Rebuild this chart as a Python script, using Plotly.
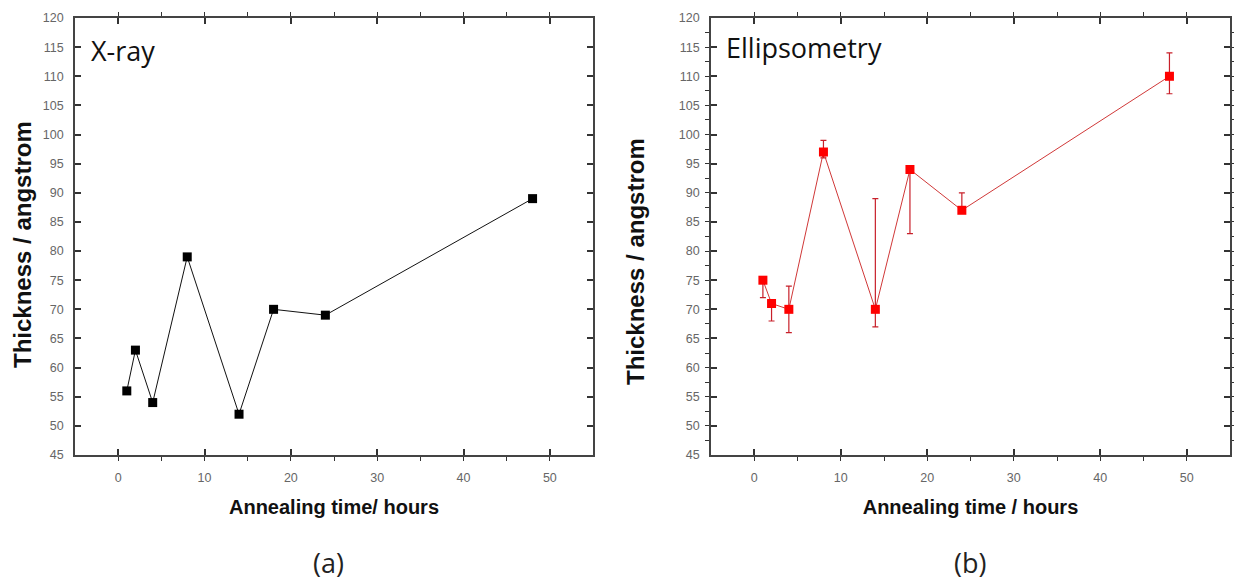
import plotly.graph_objects as go

# ---- data ----
xray_time = [1, 2, 4, 8, 14, 18, 24, 48]
xray_thickness = [56, 63, 54, 79, 52, 70, 69, 89]

ellip_time = [1, 2, 4, 8, 14, 18, 24, 48]
ellip_thickness = [75, 71, 70, 97, 70, 94, 87, 110]
ellip_err_plus = [0, 0, 4, 2, 19, 0, 3, 4]
ellip_err_minus = [3, 3, 4, 1, 3, 11, 0, 3]

x_title_a = "Annealing time/ hours"
x_title_b = "Annealing time / hours"
y_title = "Thickness / angstrom"

W, H = 1234, 585

fig = go.Figure()

fig.add_trace(go.Scatter(
    x=xray_time, y=xray_thickness, mode="lines+markers", name="X-ray",
    line=dict(color="#111111", width=1),
    marker=dict(symbol="square", size=9, color="#000000"),
    xaxis="x", yaxis="y", showlegend=False))

fig.add_trace(go.Scatter(
    x=ellip_time, y=ellip_thickness, mode="lines+markers", name="Ellipsometry",
    line=dict(color="#d03838", width=1),
    marker=dict(symbol="square", size=9, color="#ff0000"),
    error_y=dict(type="data", symmetric=False, array=ellip_err_plus,
                 arrayminus=ellip_err_minus, color="#c8202a",
                 thickness=1.2, width=3),
    xaxis="x2", yaxis="y2", showlegend=False))

y0, y1 = 1 - 455 / H, 1 - 18 / H

common_x = dict(range=[-5, 55], dtick=10, tick0=0, showgrid=False, zeroline=False,
                ticks="inside", ticklen=6, tickwidth=1.5, tickcolor="#333",
                showline=True, linecolor="#444", linewidth=1.8, mirror="ticks",
                minor=dict(ticks="outside", dtick=5, ticklen=4, tickcolor="#333", tickwidth=1.2),
                tickfont=dict(family="Liberation Sans, Arial", size=12.5, color="#666"),
                ticklabelstandoff=10, automargin=False,
                title=dict(font=dict(family="Liberation Sans, Arial", size=20, color="#111"),
                           standoff=16))
common_y = dict(range=[45, 120], dtick=5, tick0=0, showgrid=False, zeroline=False,
                ticks="inside", ticklen=6, tickwidth=1.5, tickcolor="#333",
                showline=True, linecolor="#444", linewidth=1.8, mirror="ticks",
                tickfont=dict(family="Liberation Sans, Arial", size=12.5, color="#666"),
                ticklabelstandoff=7, automargin=False)

fig.update_layout(
    width=W, height=H,
    margin=dict(l=0, r=0, t=0, b=0),
    paper_bgcolor="white", plot_bgcolor="white",
    xaxis=dict(common_x, domain=[75 / W, 593 / W], anchor="y",
               title=dict(common_x["title"], text="<b>" + x_title_a + "</b>")),
    yaxis=dict(common_y, domain=[y0, y1], anchor="x"),
    xaxis2=dict(common_x, domain=[711 / W, 1230 / W], anchor="y2",
                title=dict(common_x["title"], text="<b>" + x_title_b + "</b>")),
    yaxis2=dict(common_y, domain=[y0, y1], anchor="x2",
                minor=dict(ticks="outside", dtick=2.5, ticklen=4, tickcolor="#333", tickwidth=1.2)),
)

ann_font = dict(family="Liberation Sans, Arial", size=24, color="#111")
fig.add_annotation(text="<b>" + y_title + "</b>", textangle=-90, xref="paper", yref="paper",
                   x=22 / W, y=1 - 245 / H, xanchor="center", yanchor="middle",
                   showarrow=False, font=ann_font)
fig.add_annotation(text="<b>" + y_title + "</b>", textangle=-90, xref="paper", yref="paper",
                   x=635 / W, y=1 - 262 / H, xanchor="center", yanchor="middle",
                   showarrow=False, font=ann_font)

fig.add_annotation(text="X-ray", xref="paper", yref="paper", x=89 / W, y=1 - 50 / H,
                   xanchor="left", yanchor="middle", showarrow=False,
                   font=dict(family="Open Sans", size=27, color="#111"))
fig.add_annotation(text="Ellipsometry", xref="paper", yref="paper", x=724 / W, y=1 - 47 / H,
                   xanchor="left", yanchor="middle", showarrow=False,
                   font=dict(family="Open Sans", size=27, color="#111"))

fig.add_annotation(text="(a)", xref="paper", yref="paper", x=328 / W, y=1 - 562 / H,
                   xanchor="center", yanchor="middle", showarrow=False,
                   font=dict(family="Open Sans", size=27, color="#222"))
fig.add_annotation(text="(b)", xref="paper", yref="paper", x=970 / W, y=1 - 562 / H,
                   xanchor="center", yanchor="middle", showarrow=False,
                   font=dict(family="Open Sans", size=27, color="#222"))

fig.write_html("out.html")
